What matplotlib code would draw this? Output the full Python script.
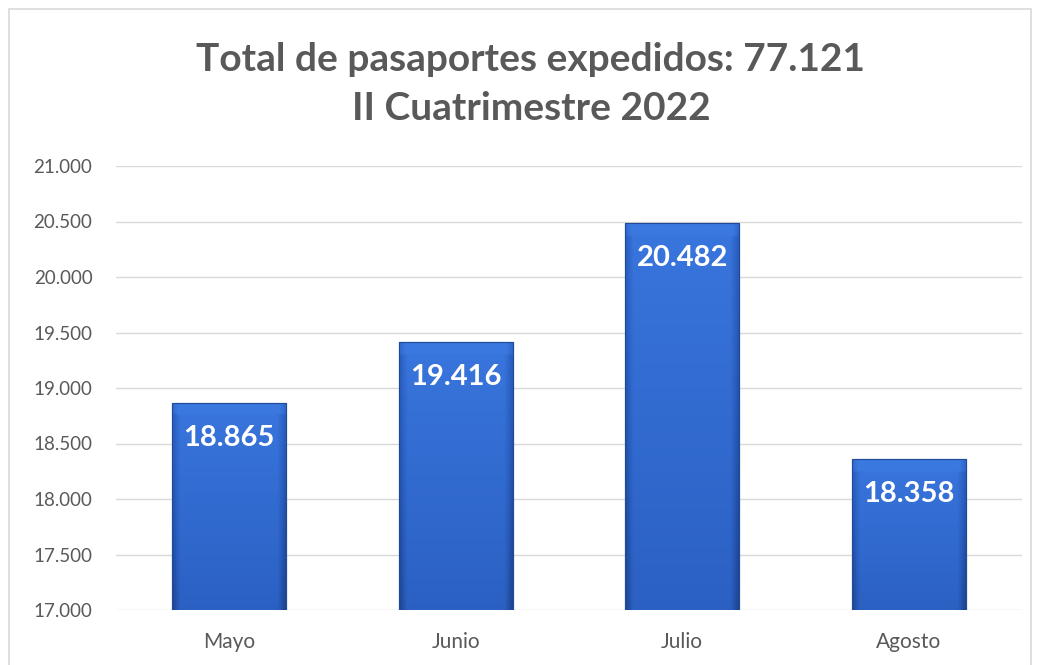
import numpy as np
import matplotlib.pyplot as plt
from matplotlib.patches import Rectangle
from matplotlib.colors import LinearSegmentedColormap

meses = ["Mayo", "Junio", "Julio", "Agosto"]
pasaportes = [18865, 19416, 20482, 18358]
ticks = [17000, 17500, 18000, 18500, 19000, 19500, 20000, 20500, 21000]
titulo = "Total de pasaportes expedidos: 77.121\nII Cuatrimestre 2022"

def miles(v):
    return f"{v:,.0f}".replace(",", ".")

plt.rcParams['font.family'] = ['Lato', 'DejaVu Sans']
gris = "#595959"

fig = plt.figure(figsize=(10.39, 6.65), dpi=100)
fig.patches.append(Rectangle((9 / 1039, -0.05), 1022 / 1039, 1 - 9 / 665 + 0.05,
                             transform=fig.transFigure, fill=False,
                             edgecolor="#D9D9D9", linewidth=1.2))
ax = fig.add_axes([116 / 1039, 1 - 610 / 665, 906 / 1039, 444 / 665])

x = np.arange(len(meses))
bars = ax.bar(x, pasaportes, width=0.503, color="#2E63C4",
              edgecolor="#1F4A96", linewidth=0.8, zorder=3)

# degradado: claro arriba, oscuro abajo, bordes oscurecidos
cmap = LinearSegmentedColormap.from_list("bisel", ["#1A3F86", "#2A5EC0", "#3A78E0"])
gx = np.linspace(-1, 1, 80)
gy = np.linspace(1, 0, 120)
borde = np.clip((np.abs(gx) - 0.86) / 0.14, 0, 1)
for b in bars:
    x0, w, h = b.get_x(), b.get_width(), b.get_height()
    alto = h - 17000
    top_px = 12 / (444 / 4000) / alto  # fraccion del bisel superior
    vert = 0.55 + 0.4 * gy[:, None]
    z = vert - 0.45 * borde[None, :]
    z[gy[:, None].repeat(80, 1) > 1 - top_px] += 0.2
    im = ax.imshow(np.clip(z, 0, 1), extent=[x0, x0 + w, 17000, h], aspect="auto",
                   cmap=cmap, vmin=0, vmax=1, zorder=3.5, interpolation="bilinear")
    im.set_clip_path(b)
    ax.add_patch(Rectangle((x0, 17000), w, alto, fill=False,
                           edgecolor="#1F4A96", linewidth=0.8, zorder=3.7))

for xi, v in zip(x, pasaportes):
    ax.annotate(miles(v), (xi, v), xytext=(0, -25), textcoords="offset points",
                ha="center", va="center", color="white", fontsize=21,
                fontweight="bold", zorder=5)

ax.set_xlim(-0.5, len(meses) - 0.5)
ax.set_ylim(17000, 21000)
ax.set_yticks(ticks)
ax.set_yticklabels([miles(t) for t in ticks])
ax.set_xticks(x)
ax.set_xticklabels(meses)
ax.tick_params(axis="both", length=0, colors=gris)
ax.tick_params(axis="y", pad=17, labelsize=13.5)
ax.tick_params(axis="x", pad=16, labelsize=15)
for s in ax.spines.values():
    s.set_visible(False)
ax.grid(axis="y", color="#D9D9D9", linewidth=1, zorder=0)
ax.set_axisbelow(True)

fig.text(0.511, 1 - 84 / 665, titulo, ha="center", va="center", fontsize=28,
         fontweight="bold", color=gris, linespacing=1.45)

fig.savefig("out.png", dpi=100)
